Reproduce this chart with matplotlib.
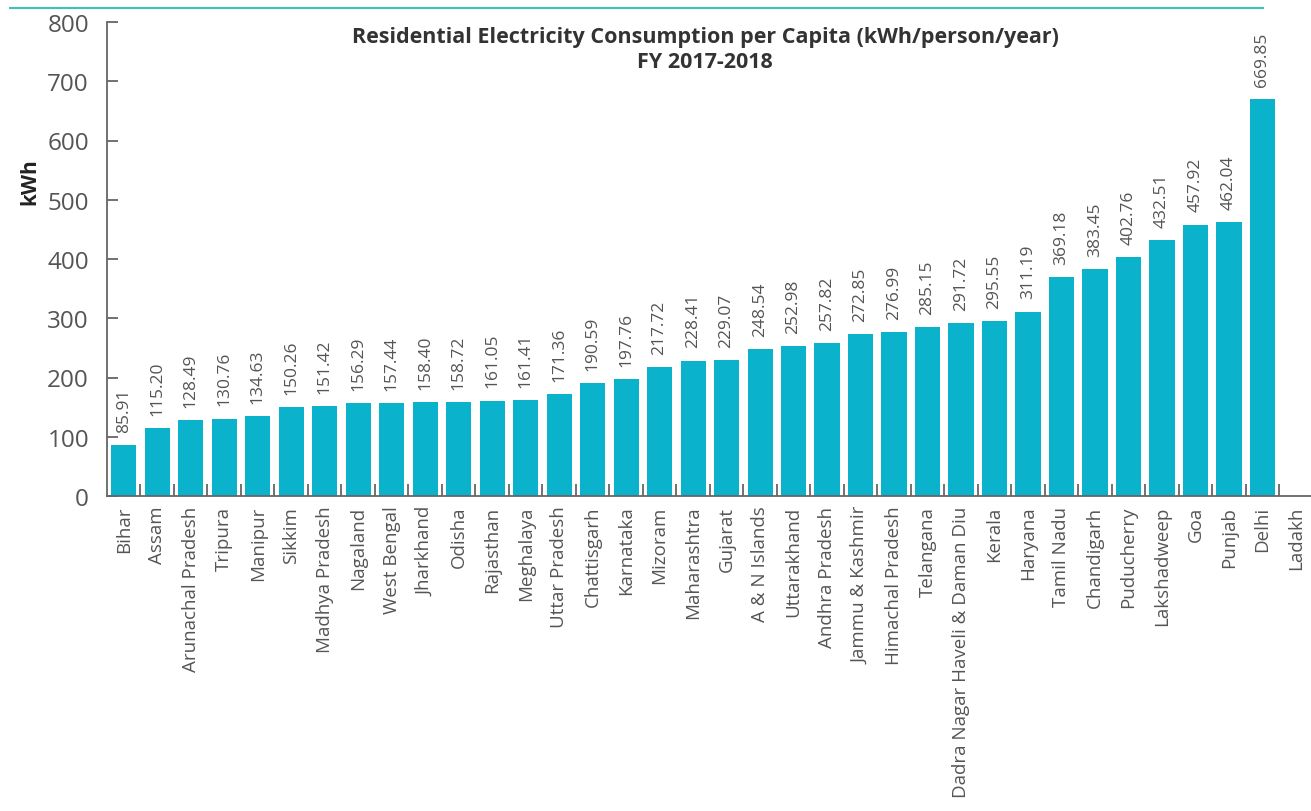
import numpy as np
import matplotlib.pyplot as plt
from matplotlib.lines import Line2D

plt.rcParams['font.family'] = ['Open Sans', 'DejaVu Sans']

states = ['Bihar', 'Assam', 'Arunachal Pradesh', 'Tripura', 'Manipur', 'Sikkim',
          'Madhya Pradesh', 'Nagaland', 'West Bengal', 'Jharkhand', 'Odisha',
          'Rajasthan', 'Meghalaya', 'Uttar Pradesh', 'Chattisgarh', 'Karnataka',
          'Mizoram', 'Maharashtra', 'Gujarat', 'A & N Islands', 'Uttarakhand',
          'Andhra Pradesh', 'Jammu & Kashmir', 'Himachal Pradesh', 'Telangana',
          'Dadra Nagar Haveli & Daman Diu', 'Kerala', 'Haryana', 'Tamil Nadu',
          'Chandigarh', 'Puducherry', 'Lakshadweep', 'Goa', 'Punjab', 'Delhi',
          'Ladakh']
consumption = [85.91, 115.20, 128.49, 130.76, 134.63, 150.26, 151.42, 156.29,
               157.44, 158.40, 158.72, 161.05, 161.41, 171.36, 190.59, 197.76,
               217.72, 228.41, 229.07, 248.54, 252.98, 257.82, 272.85, 276.99,
               285.15, 291.72, 295.55, 311.19, 369.18, 383.45, 402.76, 432.51,
               457.92, 462.04, 669.85, np.nan]

bar_color = '#0bb2cb'
grey = '#555555'

fig = plt.figure(figsize=(13.11, 8.12), dpi=100)
ax = fig.add_axes([107 / 1311, 315 / 812, 1 - 107 / 1311, 474 / 812])

x = np.arange(len(states))
vals = np.array(consumption, dtype=float)
ax.bar(x, np.nan_to_num(vals), width=0.75, color=bar_color, zorder=2)

for xi, v in zip(x, vals):
    if np.isnan(v):
        continue
    ax.annotate(f'{v:.2f}', (xi, v), xytext=(0, 9.5), textcoords='offset points',
                rotation=90, ha='center', va='bottom', fontsize=12.5,
                color=grey)

ax.set_xlim(-0.5, len(states) - 0.55)
ax.set_ylim(0, 800)
ax.set_yticks(np.arange(0, 801, 100))
ax.tick_params(axis='y', direction='in', length=8, width=1.3, color='#666666',
               labelsize=17.5, labelcolor=grey, pad=13)

# category names sit under the bars, ticks mark the boundaries
ax.set_xticks(x)
ax.set_xticklabels(states, rotation=90, fontsize=13.5, color=grey)
ax.tick_params(axis='x', length=0, pad=7)
ax.set_xticks(x[:-1] + 0.5, minor=True)
ax.tick_params(axis='x', which='minor', direction='in', length=9, width=1.3,
               color='#666666')

for s in ['top', 'right']:
    ax.spines[s].set_visible(False)
for s in ['left', 'bottom']:
    ax.spines[s].set_color('#666666')
    ax.spines[s].set_linewidth(1.3)

fig.text(705 / 1311, 1 - 37 / 812,
         'Residential Electricity Consumption per Capita (kWh/person/year)',
         ha='center', va='center', fontsize=15.5, fontweight='bold', color='#333333')
fig.text(705 / 1311, 1 - 63 / 812, 'FY 2017-2018',
         ha='center', va='center', fontsize=15.5, fontweight='bold', color='#333333')
fig.text(30 / 1311, 1 - 182 / 812, 'kWh', rotation=90, ha='center', va='center',
         fontsize=15, fontweight='bold', color='#222222')

fig.add_artist(Line2D([10 / 1311, 1263 / 1311], [1 - 9 / 812, 1 - 9 / 812],
                      color='#3fc1b9', linewidth=1.5))

fig.savefig('out.png', dpi=100)
